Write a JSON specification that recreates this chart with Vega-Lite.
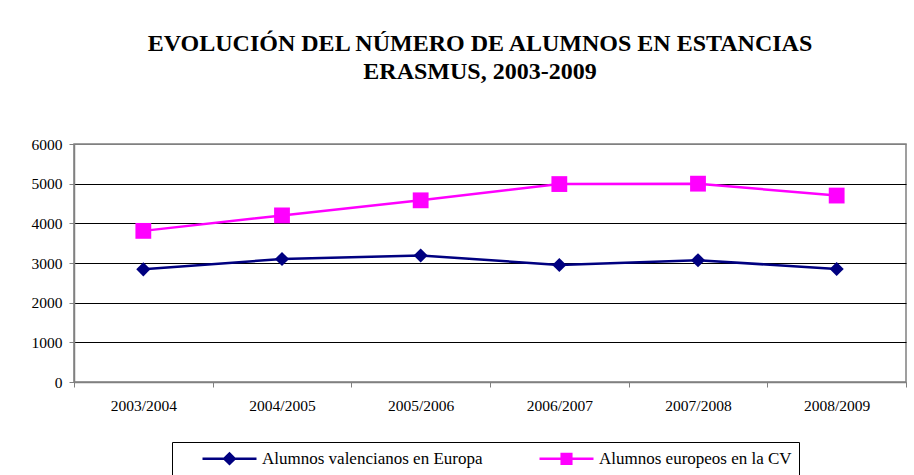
{
  "$schema": "https://vega.github.io/schema/vega-lite/v6.json",
  "width": 832,
  "height": 238,
  "autosize": {"type": "none"},
  "padding": {"left": 74, "top": 144, "right": 8, "bottom": 93},
  "background": "white",
  "config": {"view": {"stroke": "#808080", "strokeWidth": 1.5}},
  "title": {
    "text": ["EVOLUCIÓN DEL NÚMERO DE ALUMNOS EN ESTANCIAS", "ERASMUS, 2003-2009"],
    "font": "Liberation Serif",
    "fontSize": 24,
    "fontWeight": "bold",
    "color": "black",
    "anchor": "middle",
    "frame": "group",
    "offset": 53,
    "lineHeight": 28,
    "dx": -10
  },
  "data": {
    "values": [
      {"curso": "2003/2004", "serie": "Alumnos valencianos en Europa", "alumnos": 2840},
      {"curso": "2004/2005", "serie": "Alumnos valencianos en Europa", "alumnos": 3100},
      {"curso": "2005/2006", "serie": "Alumnos valencianos en Europa", "alumnos": 3190},
      {"curso": "2006/2007", "serie": "Alumnos valencianos en Europa", "alumnos": 2950},
      {"curso": "2007/2008", "serie": "Alumnos valencianos en Europa", "alumnos": 3070},
      {"curso": "2008/2009", "serie": "Alumnos valencianos en Europa", "alumnos": 2850},
      {"curso": "2003/2004", "serie": "Alumnos europeos en la CV", "alumnos": 3810},
      {"curso": "2004/2005", "serie": "Alumnos europeos en la CV", "alumnos": 4200},
      {"curso": "2005/2006", "serie": "Alumnos europeos en la CV", "alumnos": 4580},
      {"curso": "2006/2007", "serie": "Alumnos europeos en la CV", "alumnos": 4990},
      {"curso": "2007/2008", "serie": "Alumnos europeos en la CV", "alumnos": 5000},
      {"curso": "2008/2009", "serie": "Alumnos europeos en la CV", "alumnos": 4700}
    ]
  },
  "encoding": {
    "x": {
      "field": "curso",
      "type": "ordinal",
      "sort": null,
      "bandPosition": 0.5,
      "scale": {"type": "band", "paddingInner": 0, "paddingOuter": 0},
      "axis": {
        "title": null,
        "labelAngle": 0,
        "tickBand": "extent",
        "tickSize": 5,
        "tickColor": "#808080",
        "domainColor": "#808080",
        "domainWidth": 1.5,
        "labelPadding": 11,
        "labelFont": "Liberation Serif",
        "labelFontSize": 15.5,
        "labelColor": "black"
      }
    },
    "y": {
      "field": "alumnos",
      "type": "quantitative",
      "scale": {"domain": [0, 6000], "nice": false},
      "axis": {
        "title": null,
        "format": "d",
        "values": [0, 1000, 2000, 3000, 4000, 5000, 6000],
        "tickSize": 5,
        "tickColor": "#808080",
        "domainColor": "#808080",
        "domainWidth": 1.5,
        "labelPadding": 7,
        "labelFont": "Liberation Serif",
        "labelFontSize": 15.5,
        "labelColor": "black",
        "gridColor": {"condition": {"test": "datum.value == 6000 || datum.value == 0", "value": "#808080"}, "value": "black"},
        "gridOpacity": 1,
        "gridWidth": 1
      }
    },
    "color": {
      "field": "serie",
      "type": "nominal",
      "sort": ["Alumnos valencianos en Europa", "Alumnos europeos en la CV"],
      "scale": {"domain": ["Alumnos valencianos en Europa", "Alumnos europeos en la CV"], "range": ["#000080", "#FF00FF"]},
      "legend": {
        "orient": "none",
        "legendX": 98,
        "legendY": 298,
        "direction": "horizontal",
        "title": " ",
        "titleOrient": "left",
        "titleFontSize": 16,
        "titlePadding": 41,
        "strokeColor": "black",
        "padding": 7,
        "symbolSize": 256,
        "symbolStrokeWidth": 2.5,
        "labelFont": "Liberation Serif",
        "labelFontSize": 17,
        "labelColor": "black",
        "labelOffset": 23,
        "labelLimit": 400,
        "columnPadding": 51,
        "encode": {
          "symbols": {
            "update": {
              "shape": {"signal": "datum.value == 'Alumnos valencianos en Europa' ? 'M-3.375,0H3.375M-0.65,0L0,-0.65L0.65,0L0,0.65Z' : 'M-3.375,0H3.375M-0.6,-0.6H0.6V0.6H-0.6Z'"},
              "size": {"value": 256},
              "fill": {"scale": "color", "field": "value"},
              "stroke": {"scale": "color", "field": "value"},
              "strokeWidth": {"value": 2.5},
              "opacity": {"value": 1},
              "fillOpacity": {"value": 1}
            }
          }
        }
      }
    }
  },
  "layer": [
    {"mark": {"type": "line", "strokeWidth": 2.5}},
    {
      "transform": [{"filter": "datum.serie == 'Alumnos valencianos en Europa'"}],
      "mark": {"type": "point", "filled": true, "opacity": 1, "shape": "diamond", "size": 200}
    },
    {
      "transform": [{"filter": "datum.serie == 'Alumnos europeos en la CV'"}],
      "mark": {"type": "point", "filled": true, "opacity": 1, "shape": "square", "size": 250}
    }
  ]
}
